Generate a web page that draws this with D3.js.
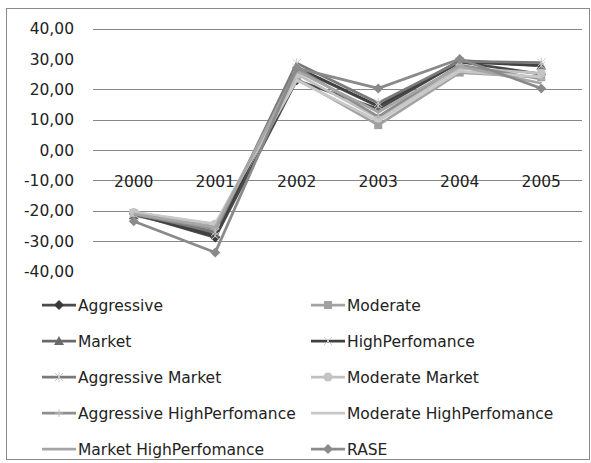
<!DOCTYPE html>
<html><head><meta charset="utf-8">
<script src="https://cdn.jsdelivr.net/npm/d3@7"></script>
<style>body{margin:0;background:#fff}svg{display:block}</style>
</head><body>
<svg id="c" width="591" height="463"></svg>
<script>
const years = ["2000","2001","2002","2003","2004","2005"];
const yTicks = [40,30,20,10,0,-10,-20,-30,-40];
const gridTicks = [40,20,10,0,-10,-20,-30];
const seriesNames = ["Aggressive","Moderate","Market","HighPerfomance","Aggressive Market","Moderate Market","Aggressive HighPerfomance","Moderate HighPerfomance","Market HighPerfomance","RASE"];
const aggressive   = [-21.0,-28.8,23.0,13.5,29.0,25.0];
const moderate     = [-20.8,-24.8,23.5, 8.2,25.5,24.0];
const market       = [-21.5,-27.5,27.0,14.3,29.5,27.8];
const highPerf     = [-21.0,-28.3,27.2,14.5,29.0,27.8];
const aggMarket    = [-21.0,-27.0,28.6,15.5,29.2,28.8];
const modMarket    = [-20.6,-24.5,25.0,10.5,27.0,25.3];
const aggHighPerf  = [-21.2,-26.0,27.0,11.0,28.0,23.4];
const modHighPerf  = [-20.5,-24.3,23.0, 9.5,26.0,24.0];
const mktHighPerf  = [-21.0,-25.5,26.0,12.5,27.5,22.0];
const rase         = [-23.5,-33.8,27.0,20.3,30.0,20.3];
const values = [aggressive,moderate,market,highPerf,aggMarket,modMarket,aggHighPerf,modHighPerf,mktHighPerf,rase];
const lineColors = ["#4a4a4a","#a2a2a2","#6a6a6a","#404040","#7a7a7a","#c0c0c0","#8e8e8e","#c8c8c8","#a6a6a6","#8a8a8a"];
const markers = ["diamond","square","triangle","x","star","circle","plus","none","none","diamond"];
const markerFill = ["#3a3a3a","#a0a0a0","#6a6a6a","#c8c8c8","#c8c8c8","#c4c4c4","#c0c0c0",null,null,"#8a8a8a"];

const svg = d3.select("#c");
const font = "DejaVu Sans, sans-serif";
const fs = 15.5;
svg.append("rect").attr("x",6.5).attr("y",8.5).attr("width",583).attr("height",451)
  .attr("fill","none").attr("stroke","#8a8a8a").attr("stroke-width",1);

const x = d3.scalePoint().domain(years).range([93,582]).padding(0.5);
const y = d3.scaleLinear().domain([-40,40]).range([271.4,28.6]);

svg.append("g").selectAll("line").data(gridTicks).join("line")
  .attr("x1",93).attr("x2",582).attr("y1",d=>Math.round(y(d))+0.5).attr("y2",d=>Math.round(y(d))+0.5)
  .attr("stroke","#868686").attr("stroke-width",1);

const fmt = d => d3.format(".2f")(d).replace(".",",").replace("−","-");
svg.append("g").selectAll("text").data(yTicks).join("text")
  .attr("x",74).attr("y",d=>y(d)).attr("dy","0.36em").attr("text-anchor","end")
  .attr("font-family",font).attr("font-size",fs).attr("fill","#222").text(fmt);

svg.append("g").selectAll("text").data(years).join("text")
  .attr("x",d=>x(d)).attr("y",y(-10)+1).attr("dy","0.36em").attr("text-anchor","middle")
  .attr("font-family",font).attr("font-size",fs).attr("fill","#222").text(d=>d);

function drawMarker(g, type, cx, cy, fill, stroke) {
  const s = 4;
  if (type==="none") return;
  if (type==="diamond") g.append("path").attr("d",`M${cx},${cy-s-1}L${cx+s+1},${cy}L${cx},${cy+s+1}L${cx-s-1},${cy}Z`).attr("fill",fill);
  else if (type==="square") g.append("rect").attr("x",cx-s).attr("y",cy-s).attr("width",2*s).attr("height",2*s).attr("fill",fill);
  else if (type==="triangle") g.append("path").attr("d",`M${cx},${cy-s-1}L${cx+s+1},${cy+s}L${cx-s-1},${cy+s}Z`).attr("fill",fill);
  else if (type==="circle") g.append("circle").attr("cx",cx).attr("cy",cy).attr("r",s+0.5).attr("fill",fill);
  else if (type==="x") g.append("path").attr("d",`M${cx-s},${cy-s}L${cx+s},${cy+s}M${cx-s},${cy+s}L${cx+s},${cy-s}`).attr("stroke",fill).attr("stroke-width",1);
  else if (type==="plus") g.append("path").attr("d",`M${cx-s},${cy}L${cx+s},${cy}M${cx},${cy-s}L${cx},${cy+s}`).attr("stroke",fill).attr("stroke-width",1);
  else if (type==="star") g.append("path").attr("d",`M${cx-s},${cy-s}L${cx+s},${cy+s}M${cx-s},${cy+s}L${cx+s},${cy-s}M${cx},${cy-s-1}L${cx},${cy+s+1}`).attr("stroke",fill).attr("stroke-width",1);
}

const line = d3.line().x((d,i)=>x(years[i])).y(d=>y(d));
const plot = svg.append("g");
values.forEach((vals,si)=>{
  const g = plot.append("g");
  g.append("path").attr("d",line(vals)).attr("fill","none").attr("stroke",lineColors[si])
    .attr("stroke-width",2.75).attr("stroke-linejoin","round");
  vals.forEach((v,i)=>drawMarker(g,markers[si],x(years[i]),y(v),markerFill[si],lineColors[si]));
});

// legend
const legX = [42,311], legY0 = 305, legDY = 36;
seriesNames.forEach((name,si)=>{
  const col = si%2, row = Math.floor(si/2);
  const lx = legX[col], ly = legY0 + row*legDY;
  const g = svg.append("g");
  g.append("line").attr("x1",lx).attr("x2",lx+34).attr("y1",ly).attr("y2",ly)
    .attr("stroke",lineColors[si]).attr("stroke-width",2.75);
  drawMarker(g,markers[si],lx+17,ly,markerFill[si],lineColors[si]);
  g.append("text").attr("x",lx+36).attr("y",ly).attr("dy","0.36em")
    .attr("font-family",font).attr("font-size",fs).attr("fill","#222").text(name);
});
</script>
</body></html>
